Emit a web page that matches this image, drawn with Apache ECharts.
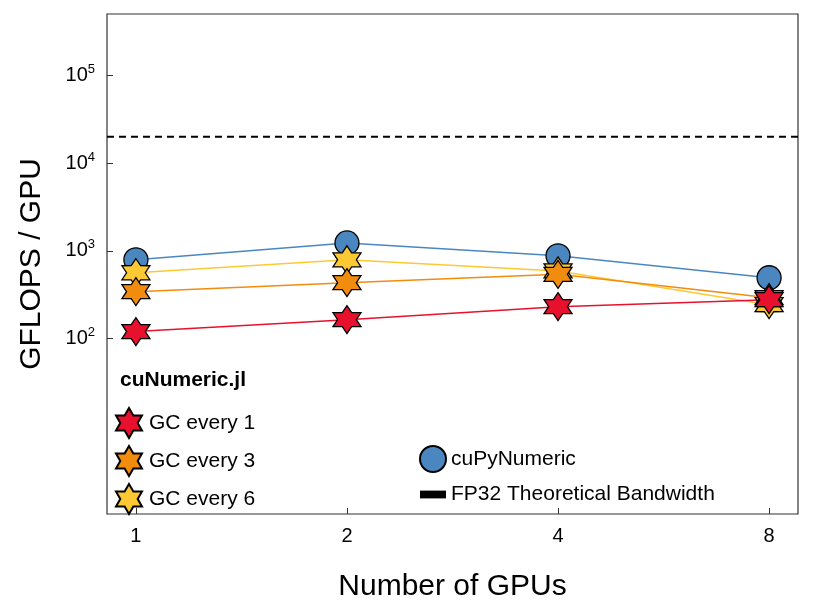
<!DOCTYPE html>
<html><head><meta charset="utf-8">
<script src="https://cdn.jsdelivr.net/npm/echarts@6/dist/echarts.min.js"></script>
<style>html,body{margin:0;padding:0;background:#fff}#c{width:814px;height:610px}</style>
</head><body><div id="c"></div>
<script>
const gpus = ['1','2','4','8'];
const cupy = [790, 1230, 877, 493];
const gc1 = [120, 164, 231, 277];
const gc3 = [342, 433, 540, 292];
const gc6 = [562, 790, 590, 243];
const bandwidth = 20000;
const yTicks = [100, 1000, 10000, 100000];

function starPath(){
  const pts=[];
  for(let i=0;i<12;i++){
    const r = i%2===0?10:5.8;
    const a = -Math.PI/2 + i*Math.PI/6;
    pts.push((10+r*Math.cos(a)).toFixed(2)+' '+(10+r*Math.sin(a)).toFixed(2));
  }
  return 'path://M'+pts.join(' L')+' Z';
}
const star = starPath();
const F = 'Liberation Sans, Arial, sans-serif';
function pairs(arr){return arr.map((v,i)=>[i,v]);}
function starSeries(name,data,color){
  return {name,type:'line',data:pairs(data),symbol:star,symbolSize:28,
    lineStyle:{color,width:1.5},itemStyle:{color,borderColor:'#000',borderWidth:1.3},z:3};
}
const chart = echarts.init(document.getElementById('c'));
chart.setOption({
  animation:false,
  textStyle:{fontFamily:F},
  grid:{left:107,right:16,top:14,bottom:96,show:true,borderColor:'#333',borderWidth:1.2},
  xAxis:{type:'value',min:-0.137,max:3.137,
    axisLine:{show:false,onZero:false},
    axisTick:{inside:true,length:6,lineStyle:{color:'#333'},customValues:[0,1,2,3]},splitLine:{show:false},
    axisLabel:{customValues:[0,1,2,3],formatter:v=>gpus[Math.round(v)]||'',color:'#000',fontSize:20,fontFamily:F,margin:12},
    name:'Number of GPUs',nameLocation:'middle',nameGap:58,nameTextStyle:{fontSize:30,color:'#000',fontFamily:F}},
  yAxis:{type:'log',min:1,max:500000,logBase:10,
    axisLine:{show:false,onZero:false},
    axisTick:{inside:true,length:6,lineStyle:{color:'#333'},customValues:yTicks},splitLine:{show:false},
    axisLabel:{customValues:yTicks,color:'#000',fontFamily:F,margin:12,
      formatter:v=>{const e=Math.round(Math.log10(v));return '{b|10}{s|'+e+'}';},
      rich:{b:{fontSize:20,fontFamily:F,color:'#000'},s:{fontSize:13,fontFamily:F,color:'#000',verticalAlign:'top',padding:[0,0,12,0]}}},
    name:'GFLOPS / GPU',nameLocation:'middle',nameGap:60,nameTextStyle:{fontSize:30,color:'#000',fontFamily:F}},
  legend:[
    {data:[{name:'GC every 1',icon:star},{name:'GC every 3',icon:star},{name:'GC every 6',icon:star}],
      orient:'vertical',left:110,top:402,itemGap:6,
      itemWidth:30,itemHeight:30,textStyle:{fontSize:21,fontFamily:F,color:'#000'}},
    {data:[{name:'cuPyNumeric',icon:'circle'},{name:'FP32 Theoretical Bandwidth',icon:'path://M0 0 H10 V3 H0 Z'}],
      orient:'vertical',left:414,top:440,itemGap:11,itemWidth:26,itemHeight:26,
      textStyle:{fontSize:21,fontFamily:F,color:'#000'}}
  ],
  graphic:[{type:'text',left:120,top:370,style:{text:'cuNumeric.jl',font:'bold 21px '+F,fill:'#000'}}],
  series:[
    {name:'FP32 Theoretical Bandwidth',type:'line',data:[[-0.137,bandwidth],[3.137,bandwidth]],symbol:'none',
      lineStyle:{color:'#000',width:2,type:[7,5]},itemStyle:{color:'#000'},z:1},
    {name:'cuPyNumeric',type:'line',data:pairs(cupy),symbol:'circle',symbolSize:24,
      lineStyle:{color:'#4a87c0',width:1.5},itemStyle:{color:'#4a87c0',borderColor:'#000',borderWidth:1.3},z:2},
    starSeries('GC every 6',gc6,'#fcc935'),
    starSeries('GC every 3',gc3,'#f28c0f'),
    starSeries('GC every 1',gc1,'#e8112d')
  ]
});
</script></body></html>
